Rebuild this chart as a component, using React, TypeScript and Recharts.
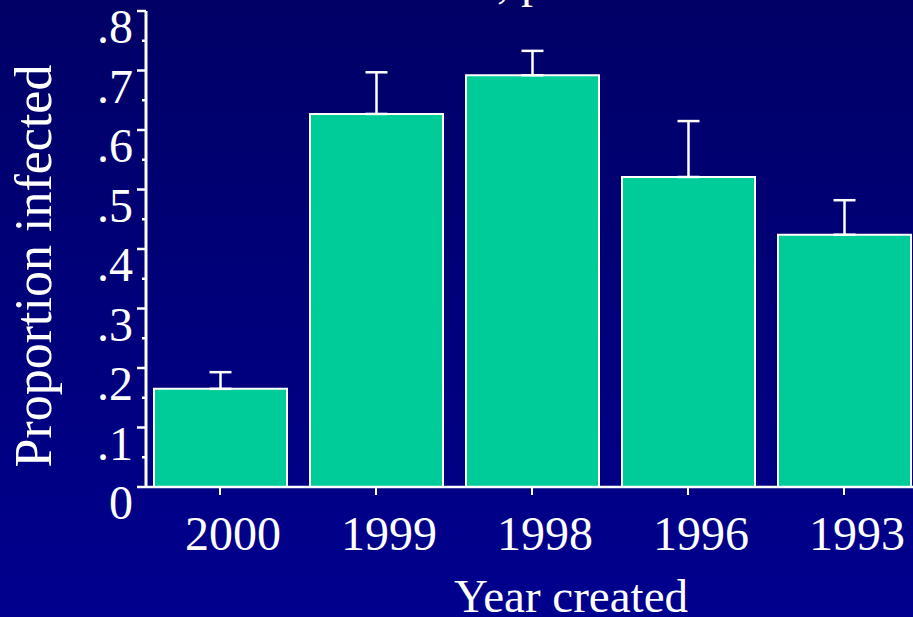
import { BarChart, Bar, XAxis, YAxis, ErrorBar, Label } from "recharts"

const years = ["2000", "1999", "1998", "1996", "1993"]
const infected = [0.165, 0.627, 0.692, 0.521, 0.424]
const upperErr = [0.028, 0.07, 0.041, 0.094, 0.058]

// every 0.05 gets a tick mark, every 0.1 gets a label
const yTicks = [0, 0.05, 0.1, 0.15, 0.2, 0.25, 0.3, 0.35, 0.4, 0.45, 0.5, 0.55, 0.6, 0.65, 0.7, 0.75, 0.8]
const yLabels: Record<number, string> = {
  0: "0", 10: ".1", 20: ".2", 30: ".3", 40: ".4", 50: ".5", 60: ".6", 70: ".7", 80: ".8",
}

const data = years.map((year, i) => ({
  year,
  infected: infected[i],
  err: [0, upperErr[i]],
}))

const font = '"Liberation Serif", "Times New Roman", serif'
const white = "#ffffff"

function YTick({ x, y, payload }: any) {
  const key = Math.round(payload.value * 100)
  const major = key % 10 === 0
  return (
    <g>
      <line x1={x - (major ? 9 : 4)} x2={x} y1={y} y2={y} stroke={white} strokeWidth={2.5} />
      {major && (
        <text x={x - 13} y={y + 32} textAnchor="end" fill={white} fontSize={48} fontFamily={font}>
          {yLabels[key]}
        </text>
      )}
    </g>
  )
}

function XTick({ x, y, payload }: any) {
  return (
    <g>
      <line x1={x} x2={x} y1={y + 1} y2={y + 8} stroke={white} strokeWidth={2} />
      <text x={x + 13} y={y + 63} textAnchor="middle" fill={white} fontSize={48} fontFamily={font}>
        {payload.value}
      </text>
    </g>
  )
}

export default function App() {
  return (
    <div
      style={{
        position: "absolute",
        left: 0,
        top: 0,
        width: 913,
        height: 617,
        overflow: "hidden",
        background: "linear-gradient(#000066, #00008e)",
      }}
    >
      <BarChart width={996} height={617} data={data} margin={{ top: 11, right: 0, bottom: 0, left: 0 }}>
        <XAxis
          dataKey="year"
          height={130}
          padding={{ left: -4, right: 74 }}
          axisLine={{ stroke: white, strokeWidth: 2.5 }}
          tickLine={false}
          tickSize={0}
          tickMargin={0}
          tick={<XTick />}
          interval={0}
        >
          <Label
            content={() => (
              <text x={571} y={612} textAnchor="middle" fill={white} fontSize={47} fontFamily={font}>
                Year created
              </text>
            )}
          />
        </XAxis>
        <YAxis
          width={146}
          domain={[0, 0.8]}
          ticks={yTicks}
          interval={0}
          axisLine={{ stroke: white, strokeWidth: 3 }}
          tickLine={false}
          tickSize={0}
          tickMargin={0}
          tick={<YTick />}
        >
          <Label
            content={() => (
              <text
                x={51}
                y={266}
                transform="rotate(-90, 51, 266)"
                textAnchor="middle"
                fill={white}
                fontSize={52}
                fontFamily={font}
              >
                Proportion infected
              </text>
            )}
          />
        </YAxis>
        <Bar dataKey="infected" fill="#00cc99" stroke={white} strokeWidth={2} barSize={133} isAnimationActive={false}>
          <ErrorBar dataKey="err" width={11} stroke={white} strokeWidth={2.5} />
        </Bar>
      </BarChart>
      <svg width={913} height={20} style={{ position: "absolute", left: 0, top: 0 }}>
        <text x={497} y={-3} fill={white} fontSize={48} fontFamily={font}>
          , p
        </text>
      </svg>
    </div>
  )
}
